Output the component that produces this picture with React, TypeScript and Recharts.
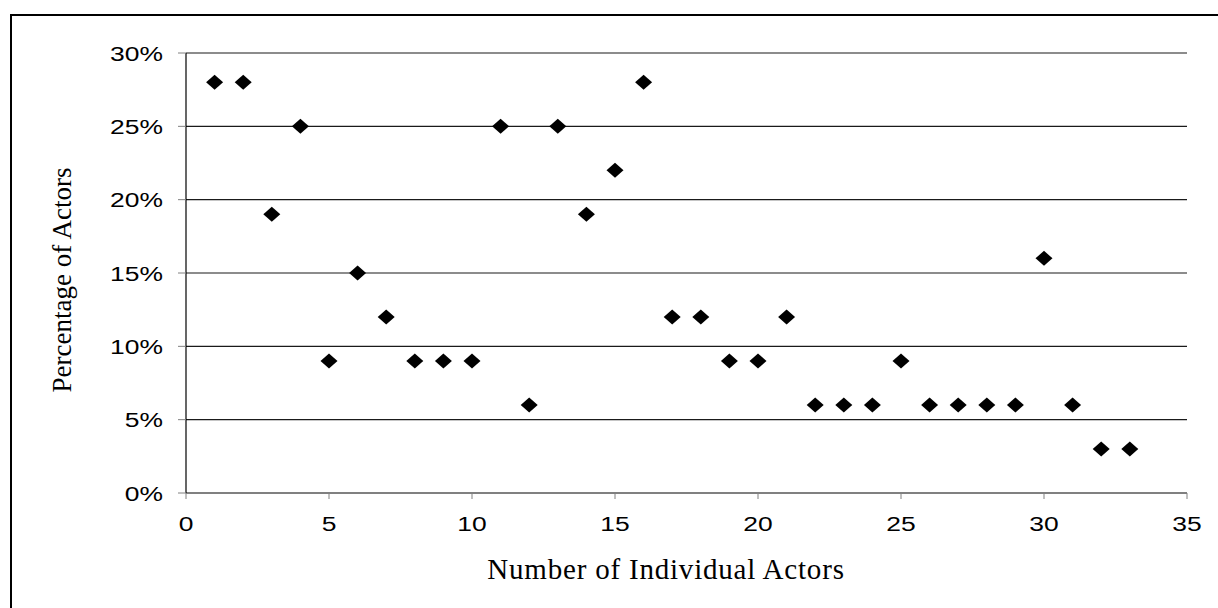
import { CartesianGrid, Label, Scatter, ScatterChart, XAxis, YAxis } from 'recharts';

const actorNumbers = [
  1, 2, 3, 4, 5, 6, 7, 8, 9, 10, 11, 12, 13, 14, 15, 16, 17,
  18, 19, 20, 21, 22, 23, 24, 25, 26, 27, 28, 29, 30, 31, 32, 33,
];
const actorPercents = [
  28, 28, 19, 25, 9, 15, 12, 9, 9, 9, 25, 6, 25, 19, 22, 28, 12,
  12, 9, 9, 12, 6, 6, 6, 9, 6, 6, 6, 6, 16, 6, 3, 3,
];
const xTicks = [0, 5, 10, 15, 20, 25, 30, 35];
const yTicks = [0, 0.05, 0.1, 0.15, 0.2, 0.25, 0.3];

const data = actorNumbers.map((x, i) => ({ x, y: actorPercents[i] / 100 }));

const SANS = '"Liberation Sans", Arial, sans-serif';
const SERIF = '"Liberation Serif", "Times New Roman", serif';

function XTick({ x, y, payload }: any) {
  return (
    <g transform={`translate(${x},${y}) scale(1.26,1)`}>
      <text textAnchor="middle" dy={32} fontSize={21} fontFamily={SANS} fill="#000">
        {payload.value}
      </text>
    </g>
  );
}

function YTick({ x, y, payload }: any) {
  return (
    <g transform={`translate(${x},${y}) scale(1.26,1)`}>
      <text textAnchor="end" dy="0.36em" fontSize={21} fontFamily={SANS} fill="#000">
        {`${Math.round(payload.value * 100)}%`}
      </text>
    </g>
  );
}

function Diamond({ cx, cy }: any) {
  return (
    <polygon
      points={`${cx - 8.5},${cy} ${cx},${cy - 7.5} ${cx + 8.5},${cy} ${cx},${cy + 7.5}`}
      fill="#000"
    />
  );
}

export default function App() {
  return (
    <div style={{ position: 'absolute', left: 0, top: 0, width: 1218, height: 608, background: '#fff', overflow: 'hidden' }}>
      <div
        style={{
          position: 'absolute', left: 10, top: 14, width: 1300, height: 700,
          borderLeft: '2px solid #000', borderTop: '2px solid #000',
        }}
      />
      <div style={{ position: 'absolute', left: 0, top: 0 }}>
        <ScatterChart width={1218} height={608} margin={{ top: 53, right: 31, left: 106, bottom: 85 }}>
          <CartesianGrid horizontal vertical={false} stroke="#1a1a1a" strokeWidth={1.2} />
          <XAxis
            type="number"
            dataKey="x"
            domain={[0, 35]}
            ticks={xTicks}
            height={30}
            axisLine={{ stroke: '#808080', strokeWidth: 2 }}
            tickLine={{ stroke: '#808080' }}
            tickSize={6}
            tickMargin={0}
            tick={<XTick />}
          >
            <Label
              content={() => (
                <text x={666} y={579} textAnchor="middle" fontSize={29} letterSpacing={0.8} fontFamily={SERIF} fill="#000">
                  Number of Individual Actors
                </text>
              )}
            />
          </XAxis>
          <YAxis
            type="number"
            dataKey="y"
            domain={[0, 0.3]}
            ticks={yTicks}
            width={80}
            axisLine={{ stroke: '#000', strokeWidth: 1.2 }}
            tickLine={{ stroke: '#808080' }}
            tickSize={8}
            tickMargin={15}
            tick={<YTick />}
          >
            <Label
              content={() => (
                <text x={71} y={280} transform="rotate(-90 71 280)" textAnchor="middle" fontSize={27} fontFamily={SERIF} fill="#000">
                  Percentage of Actors
                </text>
              )}
            />
          </YAxis>
          <Scatter data={data} shape={<Diamond />} isAnimationActive={false} />
        </ScatterChart>
      </div>
    </div>
  );
}
